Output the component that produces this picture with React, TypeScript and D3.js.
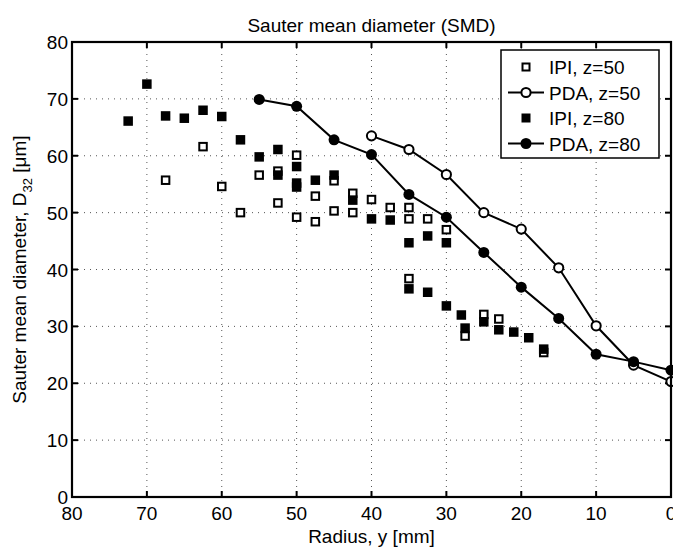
import React from "react";
import * as d3 from "d3";

const xTicks = [80, 70, 60, 50, 40, 30, 20, 10, 0];
const yTicks = [0, 10, 20, 30, 40, 50, 60, 70, 80];

const ipi50R = [67.5, 62.5, 60, 57.5, 55, 52.5, 52.5, 50, 50, 47.5, 47.5, 45, 45, 42.5, 42.5, 40, 37.5, 35, 35, 35, 32.5, 30, 27.5, 25, 23, 17];
const ipi50V = [55.7, 61.6, 54.6, 50.0, 56.6, 57.3, 51.7, 60.1, 49.2, 52.9, 48.4, 55.6, 50.3, 53.4, 50.0, 52.3, 50.9, 50.9, 48.9, 38.4, 48.9, 47.0, 28.3, 32.1, 31.3, 25.4];

const ipi80R = [72.5, 70, 67.5, 65, 62.5, 60, 57.5, 55, 52.5, 52.5, 50, 50, 50, 47.5, 45, 42.5, 40, 37.5, 35, 35, 32.5, 32.5, 30, 30, 28, 27.5, 25, 23, 21, 19, 17];
const ipi80V = [66.1, 72.6, 67.0, 66.6, 68.0, 66.9, 62.8, 59.8, 61.1, 56.6, 58.1, 55.2, 54.5, 55.7, 56.6, 52.2, 48.9, 48.7, 44.7, 36.6, 45.9, 36.0, 44.7, 33.6, 32.0, 29.7, 30.8, 29.4, 29.0, 28.0, 26.0];

const pda50R = [40, 35, 30, 25, 20, 15, 10, 5, 0];
const pda50V = [63.5, 61.1, 56.7, 50.0, 47.1, 40.3, 30.1, 23.2, 20.3];

const pda80R = [55, 50, 45, 40, 35, 30, 25, 20, 15, 10, 5, 0];
const pda80V = [69.9, 68.7, 62.8, 60.2, 53.2, 49.2, 43.0, 36.9, 31.4, 25.1, 23.8, 22.3];

const legendLabels = ["IPI, z=50", "PDA, z=50", "IPI, z=80", "PDA, z=80"];

const FONT = "'Liberation Sans', Arial, Helvetica, sans-serif";

export default function App() {
  const W = 673, H = 551;
  const L = 72, R = 671, T = 42, B = 497;
  const x = d3.scaleLinear().domain([80, 0]).range([L, R]);
  const y = d3.scaleLinear().domain([0, 80]).range([B, T]);
  const line = d3.line<[number, number]>().x(d => x(d[0])).y(d => y(d[1]));
  const p50 = pda50R.map((r, i) => [r, pda50V[i]] as [number, number]);
  const p80 = pda80R.map((r, i) => [r, pda80V[i]] as [number, number]);
  const sq = 9.5;
  const fs = 19;

  const legendRows = [67, 92.5, 118, 143.5];
  const lx = 526;

  return (
    <svg width={W} height={H} style={{ display: "block", position: "absolute", left: 0, top: 0 }} fontFamily={FONT}>
      <rect width={W} height={H} fill="#fff" />
      {/* grid */}
      {xTicks.filter(t => t !== 80 && t !== 0).map(t => (
        <line key={"gx" + t} x1={x(t)} x2={x(t)} y1={T} y2={B} stroke="#555" strokeWidth={1} strokeDasharray="1,5" />
      ))}
      {yTicks.filter(t => t !== 0 && t !== 80).map(t => (
        <line key={"gy" + t} x1={L} x2={R} y1={y(t)} y2={y(t)} stroke="#555" strokeWidth={1} strokeDasharray="1,5" />
      ))}
      {/* ticks */}
      {xTicks.map(t => (
        <g key={"tx" + t}>
          <line x1={x(t)} x2={x(t)} y1={B} y2={B - 6} stroke="#000" strokeWidth={2} />
          <line x1={x(t)} x2={x(t)} y1={T} y2={T + 6} stroke="#000" strokeWidth={2} />
          <text x={x(t)} y={B + 23} textAnchor="middle" fontSize={fs}>{t}</text>
        </g>
      ))}
      {yTicks.map(t => (
        <g key={"ty" + t}>
          <line x1={L} x2={L + 6} y1={y(t)} y2={y(t)} stroke="#000" strokeWidth={2} />
          <line x1={R} x2={R - 6} y1={y(t)} y2={y(t)} stroke="#000" strokeWidth={2} />
          <text x={L - 4} y={y(t) + 7} textAnchor="end" fontSize={fs}>{t}</text>
        </g>
      ))}
      {/* IPI z=50 */}
      {ipi50R.map((r, i) => (
        <rect key={"a" + i} x={x(r) - sq / 2 + 1} y={y(ipi50V[i]) - sq / 2 + 1} width={sq - 2} height={sq - 2} fill="#fff" stroke="#000" strokeWidth={2} />
      ))}
      {/* PDA z=50 */}
      <path d={line(p50) || ""} fill="none" stroke="#000" strokeWidth={2} />
      {p50.map((d, i) => (
        <circle key={"b" + i} cx={x(d[0])} cy={y(d[1])} r={4.6} fill="#fff" stroke="#000" strokeWidth={2} />
      ))}
      {/* IPI z=80 */}
      {ipi80R.map((r, i) => (
        <rect key={"c" + i} x={x(r) - sq / 2} y={y(ipi80V[i]) - sq / 2} width={sq} height={sq} fill="#000" />
      ))}
      {/* PDA z=80 */}
      <path d={line(p80) || ""} fill="none" stroke="#000" strokeWidth={2} />
      {p80.map((d, i) => (
        <circle key={"d" + i} cx={x(d[0])} cy={y(d[1])} r={5.5} fill="#000" />
      ))}
      {/* axes box */}
      <rect x={L} y={T} width={R - L} height={B - T} fill="none" stroke="#000" strokeWidth={2.2} />
      {/* legend */}
      <rect x={501} y={50} width={158} height={108} fill="#fff" stroke="#000" strokeWidth={1.5} />
      {legendLabels.map((lab, i) => (
        <text key={"l" + i} x={549} y={legendRows[i] + 7} fontSize={fs}>{lab}</text>
      ))}
      <rect x={lx - 3.5} y={legendRows[0] - 3.5} width={7} height={7} fill="#fff" stroke="#000" strokeWidth={2} />
      <line x1={508} x2={544} y1={legendRows[1]} y2={legendRows[1]} stroke="#000" strokeWidth={2} />
      <circle cx={lx} cy={legendRows[1]} r={4.6} fill="#fff" stroke="#000" strokeWidth={2} />
      <rect x={lx - 4.5} y={legendRows[2] - 4.5} width={9} height={9} fill="#000" />
      <line x1={508} x2={544} y1={legendRows[3]} y2={legendRows[3]} stroke="#000" strokeWidth={2} />
      <circle cx={lx} cy={legendRows[3]} r={5.5} fill="#000" />
      {/* labels */}
      <text x={(L + R) / 2} y={32} textAnchor="middle" fontSize={fs}>Sauter mean diameter (SMD)</text>
      <text x={(L + R) / 2} y={543} textAnchor="middle" fontSize={fs}>Radius, y [mm]</text>
      <text transform={`translate(26,${(T + B) / 2}) rotate(-90)`} textAnchor="middle" fontSize={fs}>
        Sauter mean diameter, D<tspan fontSize={13} dy={6}>32</tspan><tspan dy={-6}> [μm]</tspan>
      </text>
    </svg>
  );
}
